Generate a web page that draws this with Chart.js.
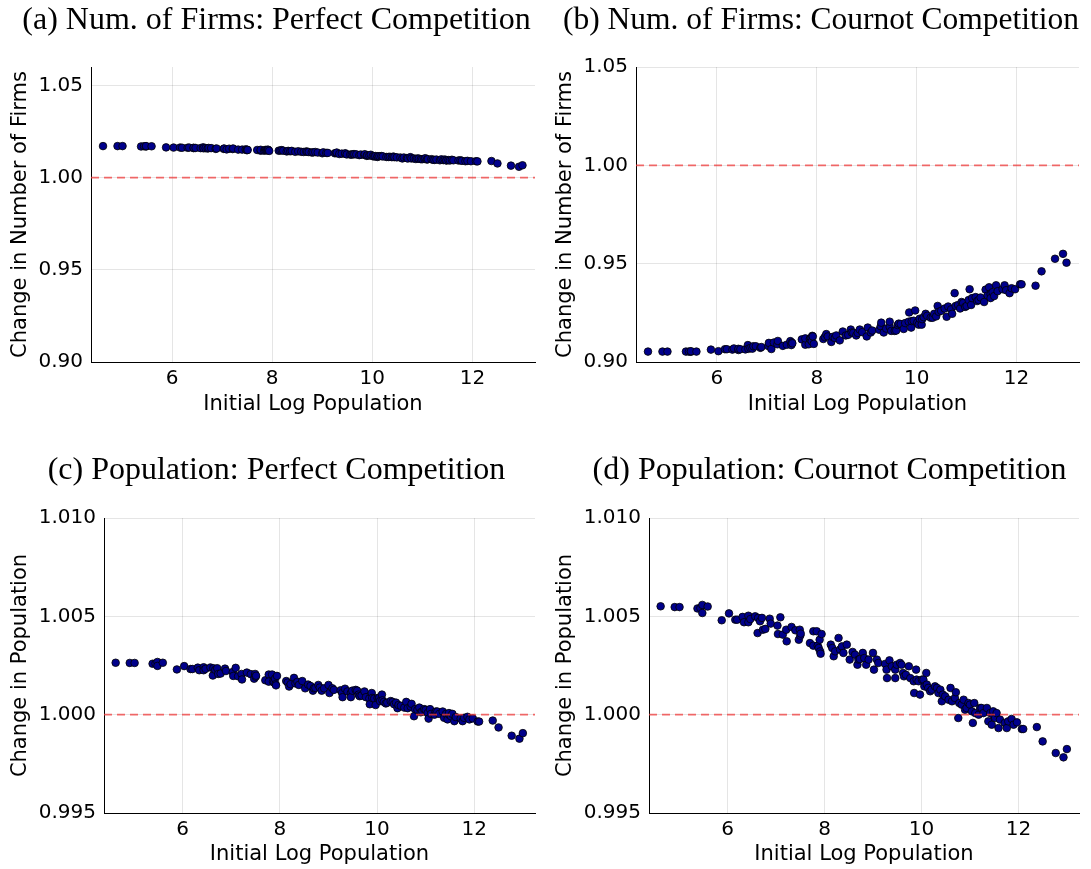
<!DOCTYPE html>
<html>
<head>
<meta charset="utf-8">
<script src="https://cdn.jsdelivr.net/npm/chart.js@4.4.0/dist/chart.umd.min.js"></script>
<style>
  body { margin: 0; background: #fff; }
  canvas { position: absolute; }
</style>
</head>
<body>
<canvas id="chartA" width="545" height="435" style="left:0;top:0"></canvas>
<canvas id="chartB" width="546" height="435" style="left:545px;top:0"></canvas>
<canvas id="chartC" width="545" height="434" style="left:0;top:435px"></canvas>
<canvas id="chartD" width="546" height="434" style="left:545px;top:435px"></canvas>
<script>
// initial log population of each city (same cities in all four panels)
const logPop = [
  4.62, 4.91, 5.01, 5.38, 5.44, 5.48, 5.48, 5.59, 5.88, 6.03,
  6.16, 6.20, 6.31, 6.34, 6.43, 6.43, 6.47, 6.57, 6.62, 6.63,
  6.67, 6.71, 6.73, 6.78, 6.87, 6.89, 7.03, 7.04, 7.09, 7.14,
  7.21, 7.22, 7.32, 7.40, 7.47, 7.49, 7.50, 7.51, 7.70, 7.77,
  7.77, 7.84, 7.86, 7.88, 7.90, 7.91, 7.92, 7.94, 8.13, 8.16,
  8.19, 8.22, 8.29, 8.32, 8.36, 8.39, 8.46, 8.52, 8.58, 8.63,
  8.68, 8.70, 8.73, 8.79, 8.82, 8.86, 8.91, 9.00, 9.02, 9.08,
  9.11, 9.25, 9.28, 9.29, 9.34, 9.39, 9.46, 9.46, 9.49, 9.56,
  9.59, 9.62, 9.64, 9.68, 9.74, 9.77, 9.84, 9.85, 9.89, 9.90,
  9.94, 9.97, 10.01, 10.04, 10.06, 10.10, 10.11, 10.14, 10.18, 10.21,
  10.28, 10.32, 10.35, 10.39, 10.42, 10.44, 10.49, 10.56, 10.60, 10.63,
  10.69, 10.71, 10.76, 10.78, 10.83, 10.87, 10.90, 10.93, 10.97, 11.00,
  11.04, 11.06, 11.09, 11.11, 11.18, 11.21, 11.24, 11.28, 11.35, 11.38,
  11.42, 11.45, 11.48, 11.48, 11.52, 11.55, 11.59, 11.62, 11.72, 11.76,
  11.79, 11.86, 11.90, 11.97, 12.07, 12.10, 12.38, 12.50, 12.77, 12.93,
  13.00
];

// (a) change in number of firms, perfect competition
const firmsPerfect = [
  1.0171, 1.0171, 1.0171, 1.0169, 1.0170, 1.0169, 1.0171, 1.0170, 1.0164, 1.0163,
  1.0163, 1.0162, 1.0162, 1.0163, 1.0160, 1.0162, 1.0161, 1.0160, 1.0164, 1.0159,
  1.0160, 1.0158, 1.0161, 1.0160, 1.0156, 1.0158, 1.0156, 1.0158, 1.0153, 1.0157,
  1.0155, 1.0158, 1.0152, 1.0152, 1.0153, 1.0149, 1.0151, 1.0150, 1.0150, 1.0146,
  1.0151, 1.0146, 1.0150, 1.0150, 1.0147, 1.0151, 1.0151, 1.0145, 1.0146, 1.0147,
  1.0149, 1.0146, 1.0142, 1.0145, 1.0143, 1.0145, 1.0140, 1.0143, 1.0140, 1.0139,
  1.0142, 1.0140, 1.0139, 1.0136, 1.0137, 1.0139, 1.0136, 1.0132, 1.0137, 1.0134,
  1.0134, 1.0132, 1.0133, 1.0136, 1.0128, 1.0130, 1.0129, 1.0132, 1.0126, 1.0125,
  1.0125, 1.0127, 1.0127, 1.0126, 1.0122, 1.0125, 1.0123, 1.0127, 1.0118, 1.0121,
  1.0120, 1.0124, 1.0116, 1.0115, 1.0117, 1.0112, 1.0116, 1.0116, 1.0117, 1.0115,
  1.0112, 1.0112, 1.0113, 1.0111, 1.0114, 1.0111, 1.0110, 1.0109, 1.0104, 1.0109,
  1.0106, 1.0104, 1.0111, 1.0104, 1.0104, 1.0101, 1.0104, 1.0103, 1.0100, 1.0100,
  1.0102, 1.0105, 1.0098, 1.0100, 1.0100, 1.0097, 1.0096, 1.0098, 1.0094, 1.0099,
  1.0095, 1.0098, 1.0094, 1.0093, 1.0095, 1.0093, 1.0097, 1.0094, 1.0093, 1.0094,
  1.0091, 1.0089, 1.0091, 1.0089, 1.0089, 1.0088, 1.0090, 1.0077, 1.0065, 1.0059,
  1.0067
];

// (b) change in number of firms, Cournot competition
const firmsCournot = [
  0.9053, 0.9053, 0.9053, 0.9053, 0.9053, 0.9052, 0.9055, 0.9053, 0.9063, 0.9055,
  0.9065, 0.9065, 0.9063, 0.9069, 0.9061, 0.9067, 0.9065, 0.9064, 0.9086, 0.9067,
  0.9071, 0.9068, 0.9080, 0.9080, 0.9072, 0.9076, 0.9081, 0.9097, 0.9066, 0.9099,
  0.9090, 0.9107, 0.9082, 0.9088, 0.9106, 0.9086, 0.9099, 0.9095, 0.9115, 0.9088,
  0.9120, 0.9090, 0.9117, 0.9122, 0.9105, 0.9133, 0.9130, 0.9092, 0.9117, 0.9127,
  0.9142, 0.9130, 0.9102, 0.9128, 0.9122, 0.9135, 0.9110, 0.9155, 0.9135, 0.9138,
  0.9165, 0.9150, 0.9148, 0.9135, 0.9148, 0.9165, 0.9152, 0.9130, 0.9175, 0.9150,
  0.9160, 0.9164, 0.9182, 0.9200, 0.9150, 0.9170, 0.9178, 0.9205, 0.9158, 0.9158,
  0.9160, 0.9188, 0.9195, 0.9193, 0.9168, 0.9198, 0.9205, 0.9252, 0.9175, 0.9208,
  0.9210, 0.9262, 0.9200, 0.9190, 0.9220, 0.9190, 0.9218, 0.9228, 0.9245, 0.9235,
  0.9225, 0.9225, 0.9245, 0.9232, 0.9285, 0.9255, 0.9260, 0.9272, 0.9230, 0.9282,
  0.9268, 0.9245, 0.9350, 0.9285, 0.9290, 0.9272, 0.9305, 0.9300, 0.9280, 0.9285,
  0.9315, 0.9370, 0.9290, 0.9325, 0.9330, 0.9310, 0.9315, 0.9328, 0.9305, 0.9368,
  0.9338, 0.9380, 0.9345, 0.9325, 0.9355, 0.9335, 0.9390, 0.9360, 0.9370, 0.9390,
  0.9365, 0.9350, 0.9375, 0.9370, 0.9395, 0.9395, 0.9388, 0.9461, 0.9525, 0.9550,
  0.9505
];

// (c) change in population, perfect competition
const popPerfect = [
  1.00264, 1.00263, 1.00263, 1.00259, 1.00260, 1.00268, 1.00248, 1.00264, 1.00230, 1.00247,
  1.00232, 1.00232, 1.00239, 1.00226, 1.00241, 1.00226, 1.00233, 1.00240, 1.00199, 1.00236,
  1.00228, 1.00236, 1.00207, 1.00209, 1.00234, 1.00222, 1.00217, 1.00197, 1.00238, 1.00195,
  1.00207, 1.00179, 1.00214, 1.00206, 1.00183, 1.00207, 1.00193, 1.00198, 1.00175, 1.00204,
  1.00168, 1.00204, 1.00168, 1.00163, 1.00183, 1.00155, 1.00149, 1.00197, 1.00171, 1.00163,
  1.00143, 1.00155, 1.00187, 1.00159, 1.00167, 1.00151, 1.00171, 1.00134, 1.00153, 1.00146,
  1.00122, 1.00134, 1.00136, 1.00151, 1.00138, 1.00122, 1.00134, 1.00151, 1.00110, 1.00134,
  1.00126, 1.00124, 1.00110, 1.00089, 1.00132, 1.00118, 1.00110, 1.00089, 1.00122, 1.00126,
  1.00122, 1.00102, 1.00094, 1.00097, 1.00118, 1.00089, 1.00082, 1.00053, 1.00110, 1.00085,
  1.00082, 1.00049, 1.00085, 1.00085, 1.00069, 1.00102, 1.00073, 1.00065, 1.00057, 1.00061,
  1.00069, 1.00065, 1.00053, 1.00061, 1.00033, 1.00049, 1.00045, 1.00036, 1.00065, 1.00033,
  1.00041, 1.00055, 0.99992, 1.00028, 1.00024, 1.00036, 1.00012, 1.00016, 1.00028, 1.00024,
  1.00008, 0.99980, 1.00028, 1.00004, 1.00000, 1.00016, 1.00016, 1.00004, 1.00016, 0.99984,
  1.00004, 0.99976, 1.00000, 1.00008, 0.99992, 1.00004, 0.99967, 0.99988, 0.99980, 0.99967,
  0.99984, 0.99989, 0.99976, 0.99981, 0.99965, 0.99965, 0.99970, 0.99935, 0.99893, 0.99878,
  0.99906
];

// (d) change in population, Cournot competition
const popCournot = [
  1.00551, 1.00547, 1.00547, 1.00540, 1.00542, 1.00558, 1.00517, 1.00550, 1.00480, 1.00515,
  1.00483, 1.00483, 1.00497, 1.00470, 1.00503, 1.00470, 1.00486, 1.00500, 1.00415, 1.00492,
  1.00475, 1.00492, 1.00432, 1.00436, 1.00488, 1.00463, 1.00453, 1.00410, 1.00495, 1.00407,
  1.00432, 1.00373, 1.00446, 1.00429, 1.00381, 1.00432, 1.00402, 1.00412, 1.00364, 1.00424,
  1.00351, 1.00424, 1.00351, 1.00339, 1.00381, 1.00322, 1.00310, 1.00410, 1.00356, 1.00339,
  1.00297, 1.00322, 1.00390, 1.00331, 1.00347, 1.00314, 1.00356, 1.00280, 1.00319, 1.00305,
  1.00254, 1.00280, 1.00283, 1.00314, 1.00288, 1.00254, 1.00280, 1.00314, 1.00229, 1.00280,
  1.00263, 1.00258, 1.00229, 1.00186, 1.00276, 1.00246, 1.00229, 1.00186, 1.00254, 1.00263,
  1.00254, 1.00212, 1.00195, 1.00203, 1.00246, 1.00186, 1.00170, 1.00110, 1.00229, 1.00178,
  1.00170, 1.00102, 1.00178, 1.00178, 1.00144, 1.00212, 1.00153, 1.00136, 1.00119, 1.00127,
  1.00144, 1.00136, 1.00110, 1.00127, 1.00068, 1.00102, 1.00093, 1.00076, 1.00136, 1.00068,
  1.00085, 1.00114, 0.99983, 1.00059, 1.00051, 1.00076, 1.00025, 1.00034, 1.00059, 1.00051,
  1.00017, 0.99958, 1.00059, 1.00008, 1.00000, 1.00034, 1.00034, 1.00008, 1.00034, 0.99966,
  1.00008, 0.99949, 1.00000, 1.00017, 0.99983, 1.00008, 0.99932, 0.99975, 0.99958, 0.99932,
  0.99966, 0.99978, 0.99949, 0.99961, 0.99927, 0.99927, 0.99937, 0.99864, 0.99805, 0.99783,
  0.99825
];

const xTicks = [6, 8, 10, 12];
const firmTicks = [0.90, 0.95, 1.00, 1.05];
const popTicks = [0.995, 1.000, 1.005, 1.010];
const baseline = 1.0;
const xMin = 4.38, xMax = 13.25;

function makePanel(id, g, title, yTitle, yVals, yMin, yMax, yTicks, digits) {
  let pts = logPop.map((x, i) => ({ x: x, y: yVals[i] }));
  new Chart(document.getElementById(id), {
    type: "scatter",
    data: {
      datasets: [
        {
          type: "line",
          data: [{ x: xMin, y: baseline }, { x: xMax, y: baseline }],
          borderColor: "rgba(240, 60, 60, 0.75)",
          borderWidth: 1.6,
          borderDash: [8, 5],
          pointRadius: 0,
          order: 0,
        },
        {
          data: pts,
          backgroundColor: "#00008b",
          borderColor: "#000000",
          borderWidth: 0.8,
          pointRadius: 3.8,
          order: 1,
        },
      ],
    },
    options: {
      responsive: false,
      animation: false,
      layout: { padding: { left: g.padL, right: g.padR, top: 0, bottom: 0 } },
      plugins: {
        legend: { display: false },
        tooltip: { enabled: false },
        title: {
          display: true,
          text: title,
          color: "#000",
          font: { family: "Liberation Serif", size: 32, weight: "normal" },
          padding: { top: g.titleTop, bottom: g.titleBottom },
        },
      },
      scales: {
        x: {
          type: "linear",
          min: xMin,
          max: xMax,
          afterBuildTicks: (s) => { s.ticks = xTicks.map((v) => ({ value: v })); },
          afterFit: (s) => { s.height = g.xAxisH; },
          grid: { color: "rgba(0,0,0,0.1)", drawTicks: false },
          border: { color: "#000", width: 1 },
          ticks: { padding: 5, color: "#000", font: { family: "DejaVu Sans", size: 20 } },
          title: {
            display: true,
            text: "Initial Log Population",
            color: "#000",
            font: { family: "DejaVu Sans", size: 21 },
            padding: { top: 0, bottom: g.xTitleBottom },
          },
        },
        y: {
          min: yMin,
          max: yMax,
          afterBuildTicks: (s) => { s.ticks = yTicks.map((v) => ({ value: v })); },
          afterFit: (s) => { s.width = g.yAxisW; },
          grid: { color: "rgba(0,0,0,0.1)", drawTicks: false },
          border: { color: "#000", width: 1 },
          ticks: {
            padding: 8,
            color: "#000",
            font: { family: "DejaVu Sans", size: 20 },
            callback: (v) => v.toFixed(digits),
          },
          title: {
            display: true,
            text: yTitle,
            color: "#000",
            font: { family: "DejaVu Sans", size: 21 },
            padding: { top: 21 - g.padL - 12.6, bottom: 0 },
          },
        },
      },
    },
  });
}

makePanel("chartA", { padL: 18, padR: 10, yAxisW: 73, xAxisH: 73, titleTop: 1.8, titleBottom: 26.8, xTitleBottom: 17.4 },
  "(a) Num. of Firms: Perfect Competition", "Change in Number of Firms", firmsPerfect, 0.90, 1.06, firmTicks, 2);
makePanel("chartB", { padL: 18, padR: 12, yAxisW: 73, xAxisH: 73, titleTop: 1.8, titleBottom: 26.8, xTitleBottom: 17.4 },
  "(b) Num. of Firms: Cournot Competition", "Change in Number of Firms", firmsCournot, 0.90, 1.05, firmTicks, 2);
makePanel("chartC", { padL: 18, padR: 10, yAxisW: 86, xAxisH: 56, titleTop: 16.8, titleBottom: 27.8, xTitleBottom: 1.4 },
  "(c) Population: Perfect Competition", "Change in Population", popPerfect, 0.995, 1.010, popTicks, 3);
makePanel("chartD", { padL: 35, padR: 12, yAxisW: 69, xAxisH: 56, titleTop: 16.8, titleBottom: 27.8, xTitleBottom: 1.4 },
  "(d) Population: Cournot Competition", "Change in Population", popCournot, 0.995, 1.010, popTicks, 3);
</script>
</body>
</html>
